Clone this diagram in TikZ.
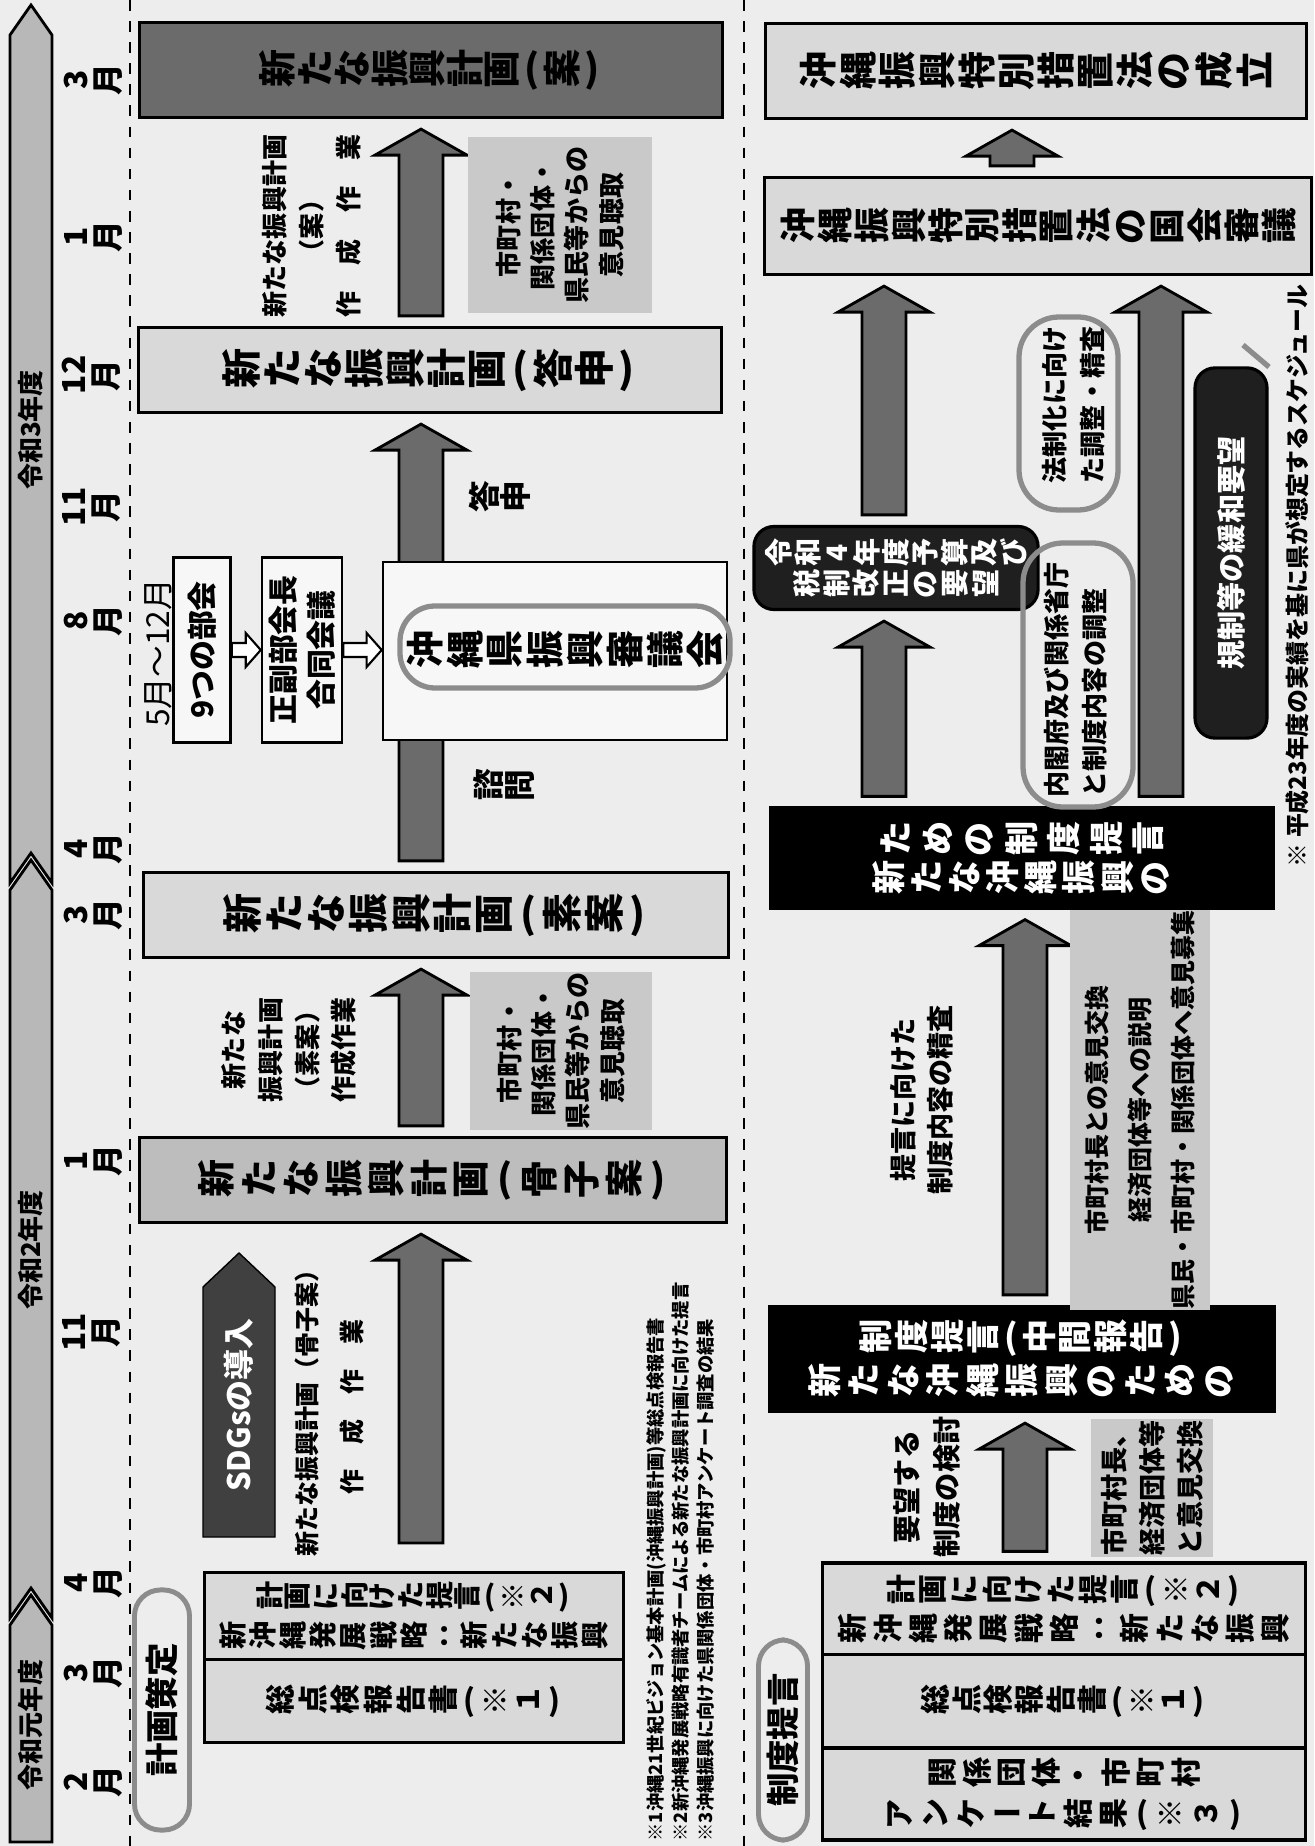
\documentclass[tikz,border=0pt]{standalone}
\usepackage{fontspec}
\usepackage{graphicx}
\setmainfont{Noto Sans CJK JP}
\usetikzlibrary{calc}

\definecolor{paper}{gray}{0.93}
\definecolor{boxgray}{gray}{0.85}
\definecolor{midgray}{gray}{0.74}
\definecolor{infogray}{gray}{0.79}
\definecolor{darkgray}{gray}{0.42}
\definecolor{arrowgray}{gray}{0.42}
\definecolor{bandgray}{gray}{0.72}
\definecolor{pengray}{gray}{0.55}
\definecolor{councilgray}{gray}{0.97}

% one tategaki row: every glyph turned on its side
\makeatletter
\newlength\tatepitch
\newcommand\tate[2][1em]{\setlength\tatepitch{#1}\tate@loop#2\tate@end}
\def\tate@end{\tate@end}
\def\tate@loop#1{\ifx#1\tate@end\else\tate@one{#1}\expandafter\tate@loop\fi}
\def\tate@one#1{\ifx#1（\makebox[0.6\tatepitch][c]{(}\else
  \ifx#1）\makebox[0.6\tatepitch][c]{)}\else
  \makebox[\tatepitch][c]{\tate@glyph{#1}}\fi\fi}
\def\tate@glyph#1{\ifx#1ー#1\else\ifx#1：#1\else\rotatebox[origin=c]{90}{#1}\fi\fi}
\makeatother

% block arrow pointing up, from #1 to #2
\newcommand\blockup[2]{%
  \draw[blockarrow] let \p1=(#1), \p2=(#2) in
    (\x2,\y2-0.1cm) -- (\x2+0.46cm,\y2-0.36cm) -- (\x2+0.22cm,\y2-0.36cm)
    -- (\x2+0.22cm,\y1+0.1cm) -- (\x2-0.22cm,\y1+0.1cm) -- (\x2-0.22cm,\y2-0.36cm)
    -- (\x2-0.46cm,\y2-0.36cm) -- cycle;}
% small hollow arrow pointing right
\newcommand\hollowright[2]{%
  \draw[hollowarrow] let \p1=(#1), \p2=(#2) in
    (\x1,\y1+0.07cm) -- (\x2-0.15cm,\y1+0.07cm) -- (\x2-0.15cm,\y1+0.17cm) -- (\x2,\y1)
    -- (\x2-0.15cm,\y1-0.17cm) -- (\x2-0.15cm,\y1-0.07cm) -- (\x1,\y1-0.07cm) -- cycle;}

\tikzset{
  planbox/.style={draw, line width=0.9pt, fill=boxgray, inner sep=0pt, align=center,
    font=\bfseries\fontsize{11.4}{13}\selectfont},
  blackbox/.style={planbox, fill=black, text=white},
  roundblack/.style={planbox, fill=black!88, text=white, rounded corners=0.2cm},
  smallbox/.style={draw, line width=0.7pt, fill=councilgray, inner sep=0pt, rotate=90, align=center,
    font=\bfseries\fontsize{8.5}{10.8}\selectfont},
  infobox/.style={fill=infogray, inner sep=0pt, rotate=90, align=center,
    font=\bfseries\fontsize{7.4}{9.7}\selectfont},
  note/.style={rotate=90, align=center, inner sep=0pt, font=\bfseries\fontsize{7.4}{10.5}\selectfont},
  stamp/.style={rotate=90, draw=pengray, line width=1.4pt, fill=paper, rounded corners=0.26cm,
    inner sep=0pt, font=\bfseries\fontsize{9.5}{11}\selectfont},
  month/.style={inner sep=0pt, font=\bfseries\fontsize{9}{10}\selectfont},
  yearlabel/.style={rotate=90, inner sep=0pt, font=\bfseries\fontsize{7.4}{8}\selectfont},
  band/.style={draw, line width=0.8pt, fill=bandgray},
  sectionline/.style={dashed, line width=0.6pt},
  blockarrow/.style={draw, line width=0.8pt, fill=arrowgray},
  hollowarrow/.style={draw, line width=0.6pt, fill=white},
  penloop/.style={draw=pengray, line width=1.5pt}
}

\begin{document}
\begin{tikzpicture}[x=0.01cm, y=-0.01cm]
\fill[paper] (0,0) rectangle (1314,1846);
\useasboundingbox (0,0) rectangle (1314,1846);

\draw[sectionline] (130,0) -- (130,1846);
\draw[sectionline] (744,0) -- (744,1846);

% fiscal years
\draw[band] (10,1842) -- (10,1625) -- (31,1595) -- (52,1625) -- (52,1842) -- cycle;
\draw[band] (10,1618) -- (10,890) -- (31,860) -- (52,890) -- (52,1618) -- (31,1588) -- cycle;
\draw[band] (10,883) -- (10,35) -- (31,5) -- (52,35) -- (52,883) -- (31,853) -- cycle;
\node[yearlabel] (fy1) at (31,1725) {令和元年度};
\node[yearlabel] (fy2) at (31,1250) {令和2年度};
\node[yearlabel] (fy3) at (31,430) {令和3年度};

% months
\node[month] (m1) at (92,1782) {\tate{2月}};
\node[month] (m2) at (92,1673) {\tate{3月}};
\node[month] (m3) at (92,1583) {\tate{4月}};
\node[month] (m4) at (92,1332) {\rotatebox[origin=c]{90}{11}\,\tate{月}};
\node[month] (m5) at (92,1161) {\tate{1月}};
\node[month] (m6) at (92,915) {\tate{3月}};
\node[month] (m7) at (92,849) {\tate{4月}};
\node[month] (m8) at (92,621) {\tate{8月}};
\node[month] (m9) at (92,507) {\rotatebox[origin=c]{90}{11}\,\tate{月}};
\node[month] (m10) at (92,375) {\rotatebox[origin=c]{90}{12}\,\tate{月}};
\node[month] (m11) at (92,237) {\tate{1月}};
\node[month] (m12) at (92,80) {\tate{3月}};

% plan column
\coordinate (plancol) at (421,0);
\node[planbox, fill=darkgray, minimum width=5.82cm, minimum height=0.95cm,
  font=\bfseries\fontsize{10.8}{13}\selectfont] (an) at (431,70) {\tate[0.375cm]{新たな振興計画（案）}};
\node[planbox, minimum width=5.82cm, minimum height=0.85cm] (toshin) at (430,370) {\tate[0.41cm]{新たな振興計画（答申）}};
\node[planbox, minimum width=5.85cm, minimum height=0.85cm] (soan) at (436,915) {\tate[0.42cm]{新たな振興計画（素案）}};
\node[planbox, fill=midgray, minimum width=5.87cm, minimum height=0.85cm,
  font=\bfseries\fontsize{10.8}{13}\selectfont] (kossi) at (433,1180) {\tate[0.425cm]{新たな振興計画（骨子案）}};
\coordinate (kossibase) at (421,1553);

\blockup{kossibase}{kossi.south -| plancol}
\blockup{kossi.north -| plancol}{soan.south -| plancol}
\blockup{soan.north -| plancol}{toshin.south -| plancol}
\blockup{toshin.north -| plancol}{an.south -| plancol}

\node[planbox, fill=councilgray, line width=0.7pt, minimum width=3.44cm, minimum height=1.78cm,
  font=\bfseries\fontsize{10.8}{13}\selectfont] (shingikai) at (555,651)
  {\hspace{0.2cm}\raisebox{0.08cm}{\tate[0.40cm]{沖縄県振興審議会}}};
\draw[penloop, rounded corners=0.35cm] (400,606) rectangle (730,688);
\node[smallbox, minimum width=1.85cm, minimum height=0.57cm] (bukai) at (202,650) {9つの部会};
\node[smallbox, minimum width=1.85cm, minimum height=0.80cm] (seifuku) at (302,650) {正副部会長\\合同会議};
\hollowright{bukai.south}{seifuku.north}
\hollowright{seifuku.south}{shingikai.west}
\node[note, font=\fontsize{9}{11}\selectfont] (period) at (158,653) {5月～12月};
\node[month] (toshinlbl) at (500,497) {\tate{答申}};
\node[month] (shimonlbl) at (504,785) {\tate{諮問}};

\node[note] (annote) at (312,226) {新たな振興計画\\（案）\\作　成　作　業};
\node[infobox, minimum width=1.76cm, minimum height=1.83cm] (hearing1) at (560,225)
  {市町村・\\関係団体・\\県民等からの\\意見聴取};
\node[note] (soannote) at (289,1050) {新たな\\振興計画\\（素案）\\作成作業};
\node[infobox, minimum width=1.58cm, minimum height=1.82cm] (hearing2) at (561,1051)
  {市町村・\\関係団体・\\県民等からの\\意見聴取};

\draw[fill=black!75] (203,1537) -- (203,1287) -- (239,1253) -- (275,1287) -- (275,1537) -- cycle;
\node[rotate=90, text=white, inner sep=0pt, font=\bfseries\fontsize{8.8}{10}\selectfont] (sdgs) at (239,1405) {SDGsの導入};
\node[note, font=\bfseries\fontsize{7.1}{12.8}\selectfont] (kossinote) at (330,1407)
  {新たな振興計画（骨子案）\\作　成　作　業};

\node[planbox, minimum width=4.18cm, minimum height=0.87cm, font=\bfseries\fontsize{8}{11.4}\selectfont] (senryaku1) at (414,1616)
  {\tate[0.283cm]{計画に向けた提言（※２）}\\\tate[0.302cm]{新沖縄発展戦略：新たな振興}};
\node[planbox, minimum width=4.18cm, minimum height=0.83cm, font=\bfseries\fontsize{8.5}{11}\selectfont] (sotenken1) at (414,1701)
  {\tate[0.326cm]{総点検報告書（※１）}};
\node[stamp, minimum width=2.40cm, minimum height=0.55cm] (keikaku) at (162,1710) {計画策定};

\node[rotate=90, anchor=north west, align=left, inner sep=0pt,
  font=\bfseries\fontsize{5.2}{7.1}\selectfont] (notes) at (646,1842)
  {※1沖縄21世紀ビジョン基本計画(沖縄振興計画)等総点検報告書\\
   ※2新沖縄発展戦略有識者チームによる新たな振興計画に向けた提言\\
   ※3沖縄振興に向けた県関係団体・市町村アンケート調査の結果};

% system proposal column
\coordinate (lawcol) at (1012,0);
\coordinate (leftcol) at (884,0);
\coordinate (rightcol) at (1161,0);
\coordinate (teigencol) at (1025,0);
\node[planbox, minimum width=5.41cm, minimum height=0.95cm, font=\bfseries\fontsize{10.8}{13}\selectfont] (seiritsu) at (1036,71)
  {\tate[0.396cm]{沖縄振興特別措置法の成立}};
\node[planbox, minimum width=5.46cm, minimum height=0.97cm, font=\bfseries\fontsize{10.2}{13}\selectfont] (kokkai) at (1038,226)
  {\tate[0.37cm]{沖縄振興特別措置法の国会審議}};
\node[roundblack, minimum width=2.84cm, minimum height=0.83cm, font=\bfseries\fontsize{8}{8.8}\selectfont] (yosan) at (896,568)
  {\tate[0.294cm]{令和4年度予算及び}\\\tate[0.297cm]{税制改正の要望}};
\node[roundblack, rotate=90, minimum width=3.70cm, minimum height=0.72cm, font=\bfseries\fontsize{8.3}{10}\selectfont] (kisei) at (1231,553)
  {規制等の緩和要望};
\node[blackbox, minimum width=5.02cm, minimum height=1.00cm, font=\bfseries\fontsize{9.7}{11.1}\selectfont] (teigen) at (1022,858)
  {\tate[0.42cm]{ための制度提言}\\\tate[0.38cm]{新たな沖縄振興の}};
\node[blackbox, minimum width=5.04cm, minimum height=1.05cm, font=\bfseries\fontsize{9.7}{12.5}\selectfont] (chukan) at (1022,1359)
  {\tate[0.356cm]{制度提言（中間報告）}\\\tate[0.395cm]{新たな沖縄振興のための}};
\node[planbox, minimum width=4.82cm, minimum height=0.92cm, font=\bfseries\fontsize{8.5}{11.1}\selectfont] (senryaku2) at (1064,1609)
  {\tate[0.32cm]{計画に向けた提言（※２）}\\\tate[0.352cm]{新沖縄発展戦略：新たな振興}};
\node[planbox, minimum width=4.82cm, minimum height=0.93cm, font=\bfseries\fontsize{8.5}{11}\selectfont] (sotenken2) at (1064,1701)
  {\tate[0.313cm]{総点検報告書（※１）}};
\node[planbox, minimum width=4.82cm, minimum height=0.92cm, font=\bfseries\fontsize{8.5}{11.7}\selectfont] (enquete) at (1064,1794)
  {\tate[0.3475cm]{関係団体・市町村}\\\tate[0.356cm]{アンケート結果（※３）}};
\node[stamp, minimum width=2.00cm, minimum height=0.49cm] (seido) at (783,1740) {制度提言};

\blockup{kokkai.north -| lawcol}{seiritsu.south -| lawcol}
\blockup{yosan.north -| leftcol}{kokkai.south -| leftcol}
\blockup{teigen.north -| leftcol}{yosan.south -| leftcol}
\blockup{teigen.north -| rightcol}{kokkai.south -| rightcol}
\blockup{chukan.north -| teigencol}{teigen.south -| teigencol}
\blockup{senryaku2.north -| teigencol}{chukan.south -| teigencol}

\node[note, font=\bfseries\fontsize{7.4}{10.8}\selectfont] (houseika) at (1074,405) {法制化に向け\\た調整・精査};
\draw[penloop, rounded corners=0.4cm] (1019,317) rectangle (1118,510);
\draw[pengray, line width=1.5pt] (1243,345) -- (1269,367);
\node[note, align=left, font=\bfseries\fontsize{7.4}{10.8}\selectfont] (naikaku) at (1076,680) {内閣府及び関係省庁\\と制度内容の調整};
\draw[penloop, rounded corners=0.4cm] (1023,543) rectangle (1133,807);
\node[note, font=\bfseries\fontsize{7.7}{10.5}\selectfont] (seisa) at (922,1100) {提言に向けた\\制度内容の精査};
\node[infobox, minimum width=3.85cm, minimum height=1.39cm, font=\bfseries\fontsize{7.1}{12.2}\selectfont] (iken1) at (1140,1110)
  {市町村長との意見交換\\経済団体等への説明\\県民・市町村・関係団体へ意見募集};
\node[note, font=\bfseries\fontsize{8}{11.4}\selectfont] (kento) at (927,1487) {要望する\\制度の検討};
\node[infobox, minimum width=1.37cm, minimum height=1.21cm, font=\bfseries\fontsize{7.7}{10.8}\selectfont] (iken2) at (1152,1488)
  {市町村長、\\経済団体等\\と意見交換};
\node[rotate=90, anchor=west, inner sep=0pt, font=\bfseries\fontsize{6.8}{8}\selectfont] (schedule) at (1297,868)
  {※ 平成23年度の実績を基に県が想定するスケジュール};
\end{tikzpicture}
\end{document}
